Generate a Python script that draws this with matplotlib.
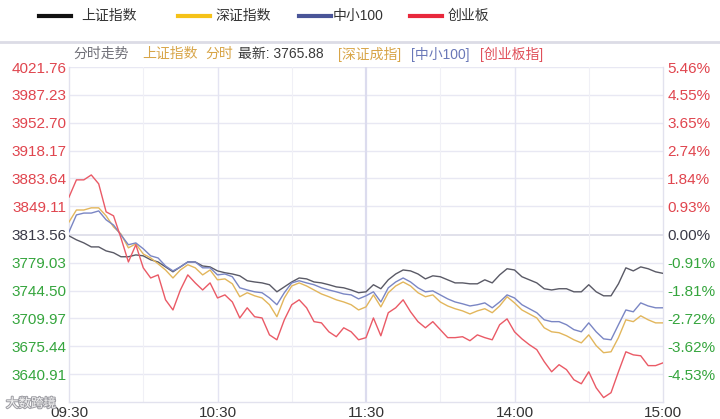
import matplotlib
matplotlib.use("Agg")
import matplotlib.pyplot as plt
from matplotlib.lines import Line2D
import matplotlib.patheffects as pe
import numpy as np

plt.rcParams['font.family'] = ['Liberation Sans', 'Noto Sans CJK SC', 'DejaVu Sans']

# reference price of the Shanghai index (previous close) and latest value
base = 3813.56
latest = 3765.88

# one sample every 3 minutes of trading time (09:30-11:30, 13:00-15:00)
minutes = np.arange(0, 241, 3)

# percent change vs previous close
sh_pct = [-0.03, -0.16, -0.26, -0.39, -0.39, -0.52, -0.58, -0.71, -0.71, -0.65,
          -0.68, -0.81, -0.88, -1.04, -1.20, -1.04, -0.88, -0.88, -1.01, -1.04,
          -1.17, -1.23, -1.27, -1.33, -1.49, -1.53, -1.56, -1.62, -1.85, -1.69,
          -1.53, -1.40, -1.43, -1.53, -1.56, -1.62, -1.69, -1.72, -1.79, -1.88,
          -1.85, -1.62, -1.75, -1.46, -1.27, -1.14, -1.17, -1.27, -1.43, -1.33,
          -1.36, -1.46, -1.56, -1.56, -1.59, -1.59, -1.46, -1.56, -1.30, -1.10,
          -1.14, -1.36, -1.46, -1.56, -1.75, -1.79, -1.75, -1.75, -1.85, -1.85,
          -1.62, -1.85, -1.98, -1.98, -1.59, -1.07, -1.17, -1.04, -1.10, -1.20,
          -1.25]
sz_pct = [0.42, 0.81, 0.81, 0.88, 0.88, 0.62, 0.26, 0.03, -0.42, -0.29,
          -0.62, -0.75, -0.94, -1.14, -1.40, -1.14, -0.97, -1.07, -1.30, -1.14,
          -1.46, -1.43, -1.59, -2.01, -1.88, -1.98, -2.05, -2.27, -2.66, -2.05,
          -1.66, -1.56, -1.66, -1.79, -1.92, -2.01, -2.11, -2.18, -2.27, -2.44,
          -2.34, -1.95, -2.34, -1.88, -1.66, -1.53, -1.66, -1.88, -2.01, -1.95,
          -2.18, -2.31, -2.40, -2.47, -2.57, -2.47, -2.40, -2.53, -2.31, -2.01,
          -2.21, -2.44, -2.57, -2.70, -3.02, -3.15, -3.18, -3.28, -3.41, -3.51,
          -3.25, -3.60, -3.83, -3.80, -3.34, -2.76, -2.82, -2.63, -2.76, -2.86,
          -2.86]
zx_pct = [0.10, 0.65, 0.71, 0.71, 0.78, 0.49, 0.32, 0.00, -0.32, -0.26,
          -0.45, -0.68, -0.75, -1.01, -1.17, -1.04, -0.88, -0.88, -1.07, -1.07,
          -1.30, -1.27, -1.36, -1.72, -1.79, -1.85, -1.88, -2.05, -2.27, -1.88,
          -1.56, -1.49, -1.56, -1.62, -1.72, -1.79, -1.85, -1.92, -1.95, -2.08,
          -1.98, -1.85, -2.18, -1.72, -1.53, -1.40, -1.53, -1.72, -1.85, -1.82,
          -1.95, -2.08, -2.18, -2.24, -2.31, -2.27, -2.21, -2.37, -2.18, -1.95,
          -2.05, -2.27, -2.40, -2.53, -2.76, -2.82, -2.82, -2.92, -3.08, -3.15,
          -2.86, -3.15, -3.38, -3.41, -2.92, -2.44, -2.50, -2.21, -2.31, -2.37,
          -2.37]
cy_pct = [1.23, 1.79, 1.79, 1.95, 1.66, 0.75, 0.62, -0.10, -0.88, -0.32,
          -1.07, -1.40, -1.30, -2.11, -2.44, -1.79, -1.30, -1.56, -1.79, -1.56,
          -2.05, -1.95, -2.18, -2.70, -2.37, -2.66, -2.70, -3.25, -3.41, -2.76,
          -2.27, -2.11, -2.37, -2.82, -2.86, -3.15, -3.31, -3.02, -3.15, -3.41,
          -3.34, -2.70, -3.28, -2.53, -2.37, -2.11, -2.50, -2.82, -3.02, -2.82,
          -3.08, -3.34, -3.34, -3.31, -3.44, -3.25, -3.34, -3.41, -2.92, -2.73,
          -3.15, -3.38, -3.57, -3.73, -4.12, -4.45, -4.22, -4.38, -4.71, -4.84,
          -4.45, -4.97, -5.29, -5.13, -4.45, -3.80, -3.90, -3.93, -4.25, -4.25,
          -4.16]

price_ticks = [4021.76, 3987.23, 3952.70, 3918.17, 3883.64, 3849.11,
               3813.56, 3779.03, 3744.50, 3709.97, 3675.44, 3640.91]
pct_labels = ['5.46%', '4.55%', '3.65%', '2.74%', '1.84%', '0.93%',
              '0.00%', '-0.91%', '-1.81%', '-2.72%', '-3.62%', '-4.53%']
time_ticks = [0, 60, 120, 180, 240]
time_labels = ['09:30', '10:30', '11:30', '14:00', '15:00']

names = ['上证指数', '深证指数', '中小100', '创业板']
legend_colors = ['#111111', '#f5c218', '#4a5598', '#e8283c']
line_colors = ['#5a5a66', '#e2b65c', '#7a86c4', '#ea5a66']
series = [sh_pct, sz_pct, zx_pct, cy_pct]

RED = '#e0454e'
GREEN = '#35a53d'
DARK = '#3a3a48'
GRID = '#e8e8f3'

fig = plt.figure(figsize=(7.2, 4.19), dpi=100)
fig.patch.set_facecolor('white')
ax = fig.add_axes([69 / 720, 1 - 402 / 419, (663 - 69) / 720, (402 - 67) / 419])

for vals, c in zip(series, line_colors):
    prices = base * (1 + np.array(vals) / 100)
    ax.plot(minutes, prices, color=c, lw=1.0, zorder=3)

ax.set_xlim(0, 240)
ax.set_ylim(3606.38, 4021.76)

# grid
for p in price_ticks:
    ax.axhline(p, color='#dcdce8' if p == base else GRID, lw=1.2 if p == base else 1.0, zorder=1)
for m in [30, 90, 150, 210]:
    ax.axvline(m, color='#f0f0f6', lw=0.8, zorder=1)
for m in [60, 180]:
    ax.axvline(m, color='#e4e4f2', lw=1.0, zorder=1)
ax.axvline(120, color='#dcdcee', lw=1.6, zorder=1)

for s in ax.spines.values():
    s.set_color('#e2e2ee')
    s.set_linewidth(1.0)
ax.spines['top'].set_visible(False)

ax.set_yticks(price_ticks)
ax.set_yticklabels([f'{p:.2f}' for p in price_ticks], fontsize=11)
ax.set_xticks(time_ticks)
ax.set_xticklabels(time_labels, fontsize=11, color='#333333')
ax.tick_params(length=0, pad=2)
ax.tick_params(axis='x', pad=3)
for lab, p in zip(ax.get_yticklabels(), price_ticks):
    lab.set_color(RED if p > base + 0.01 else (GREEN if p < base - 0.01 else DARK))

ax2 = ax.twinx()
ax2.set_ylim(ax.get_ylim())
ax2.set_yticks(price_ticks)
ax2.set_yticklabels(pct_labels, fontsize=11)
ax2.tick_params(length=0, pad=3)
for s in ax2.spines.values():
    s.set_visible(False)
for lab, p in zip(ax2.get_yticklabels(), price_ticks):
    lab.set_color(RED if p > base + 0.01 else (GREEN if p < base - 0.01 else DARK))

# legend row at the top
W, H = 720, 419
leg_line_x = [39, 178, 299, 410]
leg_text_x = [81, 215, 333, 448]
for lx, tx, name, c in zip(leg_line_x, leg_text_x, names, legend_colors):
    fig.add_artist(Line2D([lx / W, (lx + 32) / W], [1 - 16 / H] * 2, color=c, lw=3,
                          transform=fig.transFigure))
    fig.text(tx / W, 1 - 16 / H, name, fontsize=10, color='#333333', va='center')

# separator bar
fig.add_artist(Line2D([0, 1], [1 - 42 / H] * 2, color='#dcdce6', lw=2.0,
                      transform=fig.transFigure))

# subtitle line
parts = [(73, '分时走势', '#707078'),
         (142, '上证指数', '#d8a548'),
         (205, '分时', '#d8a548'),
         (238, f'最新: {latest:.2f}', '#3a3a3a'),
         (338, '[深证成指]', '#d8a548'),
         (411, '[中小100]', '#6a78b8'),
         (480, '[创业板指]', '#e0505a')]
for x, txt, c in parts:
    fig.text(x / W, 1 - 54 / H, txt, fontsize=10, color=c, va='center')

# watermark (kept clear of the first time label)
fig.text(6 / W, 1 - 404 / H, '大数跨境', fontsize=9, color='#f4f4f4', va='center',
         path_effects=[pe.withStroke(linewidth=1.5, foreground='#a0a0a6')], zorder=10)

fig.savefig('out.png', dpi=100, facecolor='white')
